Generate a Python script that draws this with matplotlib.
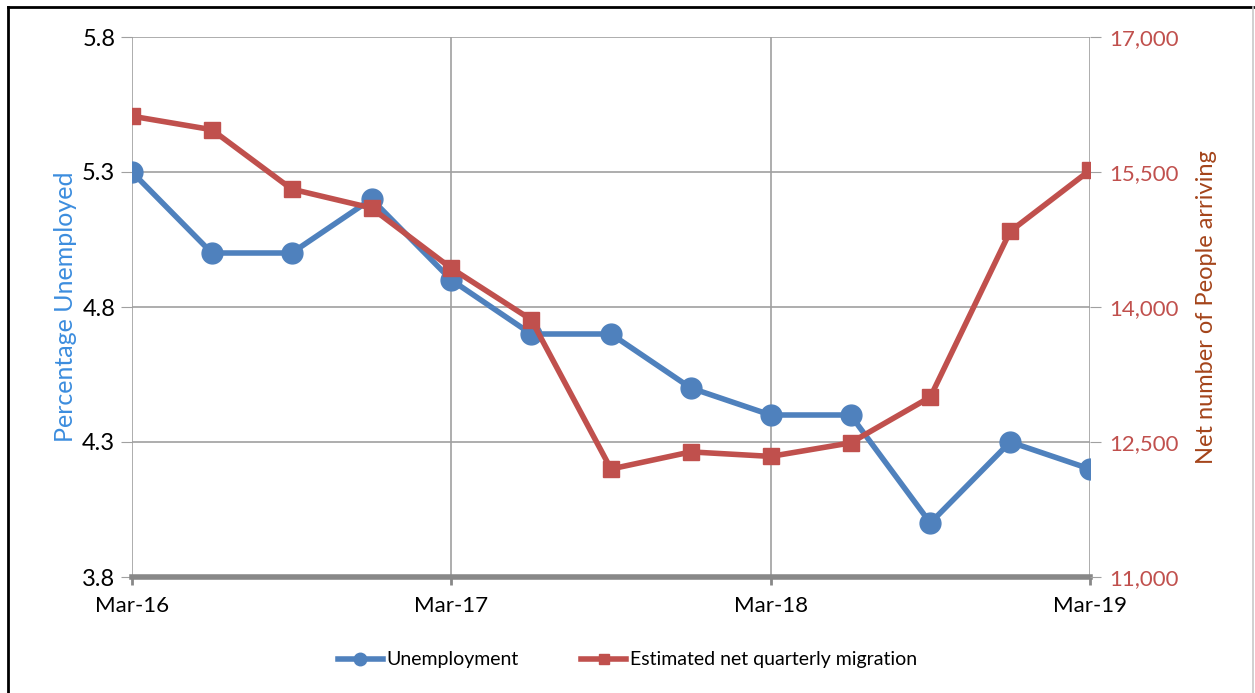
import matplotlib.pyplot as plt
from matplotlib.lines import Line2D

plt.rcParams['font.family'] = ['Lato', 'DejaVu Sans']

quarters = list(range(13))
tick_labels = ['Mar-16', 'Mar-17', 'Mar-18', 'Mar-19']
unemployment = [5.3, 5.0, 5.0, 5.2, 4.9, 4.7, 4.7, 4.5, 4.4, 4.4, 4.0, 4.3, 4.2]
migration = [16120, 15970, 15310, 15100, 14430, 13860, 12200, 12390, 12340, 12490, 13000, 14840, 15520]

blue = '#4F81BD'
red = '#C0504D'

fig = plt.figure(figsize=(12.55, 6.93), dpi=100)
ax = fig.add_axes([132/1255, 1-577/693, (1090-132)/1255, (577-37)/693])
ax2 = ax.twinx()

# frame round the figure: black top and left, light grey right
fx0, fx1, fy1 = 8/1255, 1253/1255, 1-7/693
fig.lines.append(Line2D([fx0, fx1], [fy1, fy1], transform=fig.transFigure, color='black', lw=2))
fig.lines.append(Line2D([fx0, fx0], [0, fy1], transform=fig.transFigure, color='black', lw=2))
fig.lines.append(Line2D([fx1, fx1], [0, fy1], transform=fig.transFigure, color='#C8C8C8', lw=1.2))

l1, = ax.plot(quarters, unemployment, color=blue, lw=4, marker='o', ms=15, zorder=3,
              label='Unemployment')
l2, = ax2.plot(quarters, migration, color=red, lw=4, marker='s', ms=12, zorder=3,
               label='Estimated net quarterly migration')

ax.set_xlim(0, 12)
ax.set_ylim(3.8, 5.8)
ax2.set_ylim(11000, 17000)
ax.set_yticks([3.8, 4.3, 4.8, 5.3, 5.8])
ax.set_yticklabels(['3.8', '4.3', '4.8', '5.3', '5.8'])
ax2.set_yticks([11000, 12500, 14000, 15500, 17000])
ax2.set_yticklabels(['11,000', '12,500', '14,000', '15,500', '17,000'])
ax.set_xticks([0, 4, 8, 12])
ax.set_xticklabels(tick_labels)

ax.grid(True, color='#A0A0A0', lw=1.2)
ax.set_axisbelow(True)

for a in (ax, ax2):
    for s in ['top', 'right', 'left']:
        a.spines[s].set_visible(False)
ax.spines['bottom'].set_color('#888888')
ax.spines['bottom'].set_linewidth(4)
ax2.spines['bottom'].set_visible(False)

ax.tick_params(axis='y', length=8, color='#A0A0A0', labelsize=17, pad=4)
ax.tick_params(axis='x', length=6, color='#888888', width=2, labelsize=16, pad=8)
ax2.tick_params(axis='y', length=8, color='#A0A0A0', labelsize=16, labelcolor=red, pad=6)

ax.set_ylabel('Percentage Unemployed', color='#3C8DDE', fontsize=18, labelpad=4)
ax2.set_ylabel('Net number of People arriving', color='#A4441A', fontsize=17, labelpad=12)

fig.legend(handles=[l1, l2], loc='center', bbox_to_anchor=(0.5, 1-660/693), ncol=2,
           frameon=False, fontsize=14, handlelength=2.3, columnspacing=3.2, handletextpad=0.2,
           markerscale=0.6)

fig.savefig('out.png', dpi=100)
